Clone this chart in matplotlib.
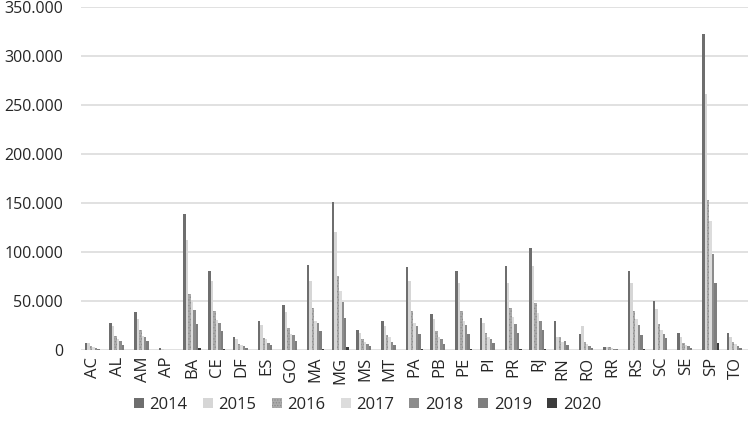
import matplotlib
matplotlib.use("Agg")
import matplotlib.pyplot as plt
import numpy as np
from matplotlib.ticker import FuncFormatter, MultipleLocator

plt.rcParams['font.family'] = ['Open Sans', 'DejaVu Sans']
plt.rcParams['hatch.color'] = '#8a8a8a'
plt.rcParams['hatch.linewidth'] = 0.6

states = ["AC", "AL", "AM", "AP", "BA", "CE", "DF", "ES", "GO", "MA", "MG", "MS", "MT",
          "PA", "PB", "PE", "PI", "PR", "RJ", "RN", "RO", "RR", "RS", "SC", "SE", "SP", "TO"]
years = ["2014", "2015", "2016", "2017", "2018", "2019", "2020"]

v2014 = [7500, 27000, 39000, 2000, 139000, 81000, 13000, 30000, 46000, 87000, 151000, 20000, 30000,
         85000, 37000, 81000, 33000, 86000, 104000, 30000, 16000, 3200, 81000, 50000, 17000, 322000, 17000]
v2015 = [7000, 24000, 32000, 1000, 112000, 70000, 11600, 25000, 39000, 70000, 120000, 17500, 24500,
         70000, 32000, 68000, 27000, 68000, 86000, 13500, 24000, 3000, 68000, 42000, 13000, 261000, 13600]
v2016 = [4000, 14000, 20000, 300, 57000, 40000, 6500, 12000, 22000, 43000, 75000, 11000, 15000,
         40000, 19000, 40000, 17500, 43000, 47500, 13000, 8000, 2500, 40000, 26000, 7000, 153000, 8500]
v2017 = [2500, 11000, 14000, 300, 51000, 31000, 5000, 11000, 16000, 29000, 60000, 8500, 13000,
         27000, 13000, 30000, 13000, 34000, 38000, 8500, 6000, 1500, 32000, 20000, 5000, 132000, 6500]
v2018 = [2000, 9000, 13000, 200, 41000, 27000, 4000, 7500, 15000, 27000, 49000, 6500, 8500,
         24500, 11000, 25000, 11000, 26500, 29500, 9000, 3500, 1000, 25000, 16000, 3700, 98000, 4000]
v2019 = [1000, 5500, 9000, 150, 26000, 19000, 2000, 5000, 9500, 19000, 33000, 4500, 5000,
         16000, 6500, 16000, 7500, 17700, 20000, 5500, 2000, 500, 15000, 12000, 2000, 68000, 2000]
v2020 = [300, 300, 300, 100, 2000, 1000, 200, 300, 300, 1000, 3400, 200, 200,
         1000, 200, 1000, 200, 1000, 1000, 300, 200, 100, 1000, 300, 300, 7500, 300]

series = [v2014, v2015, v2016, v2017, v2018, v2019, v2020]
colors = ['#6e6e6e', '#d6d6d6', '#ababab', '#dcdcdc', '#8c8c8c', '#7e7e7e', '#3c3c3c']
hatches = [None, None, '......', None, None, None, None]

fig = plt.figure(figsize=(7.5, 4.32), dpi=100)
ax = fig.add_axes([0.108, 0.19, 0.889, 0.794])

x = np.arange(len(states))
bw = 0.1
n = len(series)
for i, (vals, c, h) in enumerate(zip(series, colors, hatches)):
    ax.bar(x + (i - (n - 1) / 2) * bw, vals, width=bw, color=c, hatch=h,
           linewidth=0, label=years[i], zorder=3)

ax.set_xlim(-0.5, len(states) - 0.5)
ax.set_ylim(0, 350000)
ax.yaxis.set_major_locator(MultipleLocator(50000))
ax.yaxis.set_major_formatter(FuncFormatter(lambda v, p: f"{int(v):,}".replace(",", ".")))
ax.grid(axis='y', color='#d9d9d9', linewidth=1.1, zorder=0)
ax.set_axisbelow(True)
for s in ax.spines.values():
    s.set_visible(False)
ax.set_xticks(x)
ax.set_xticklabels(states, rotation=90, fontsize=12, color='#262626')
ax.tick_params(axis='x', length=0, labelsize=12, colors='#262626', pad=5)
ax.tick_params(axis='y', length=0, labelsize=11.5, colors='#262626', pad=13)

leg = fig.legend(loc='center', bbox_to_anchor=(0.49, 0.0625), ncol=7, frameon=False,
                 fontsize=12, handlelength=0.6, handleheight=0.6, handletextpad=0.35,
                 columnspacing=0.9)
for t in leg.get_texts():
    t.set_color('#262626')

fig.savefig("out.png", dpi=100)
